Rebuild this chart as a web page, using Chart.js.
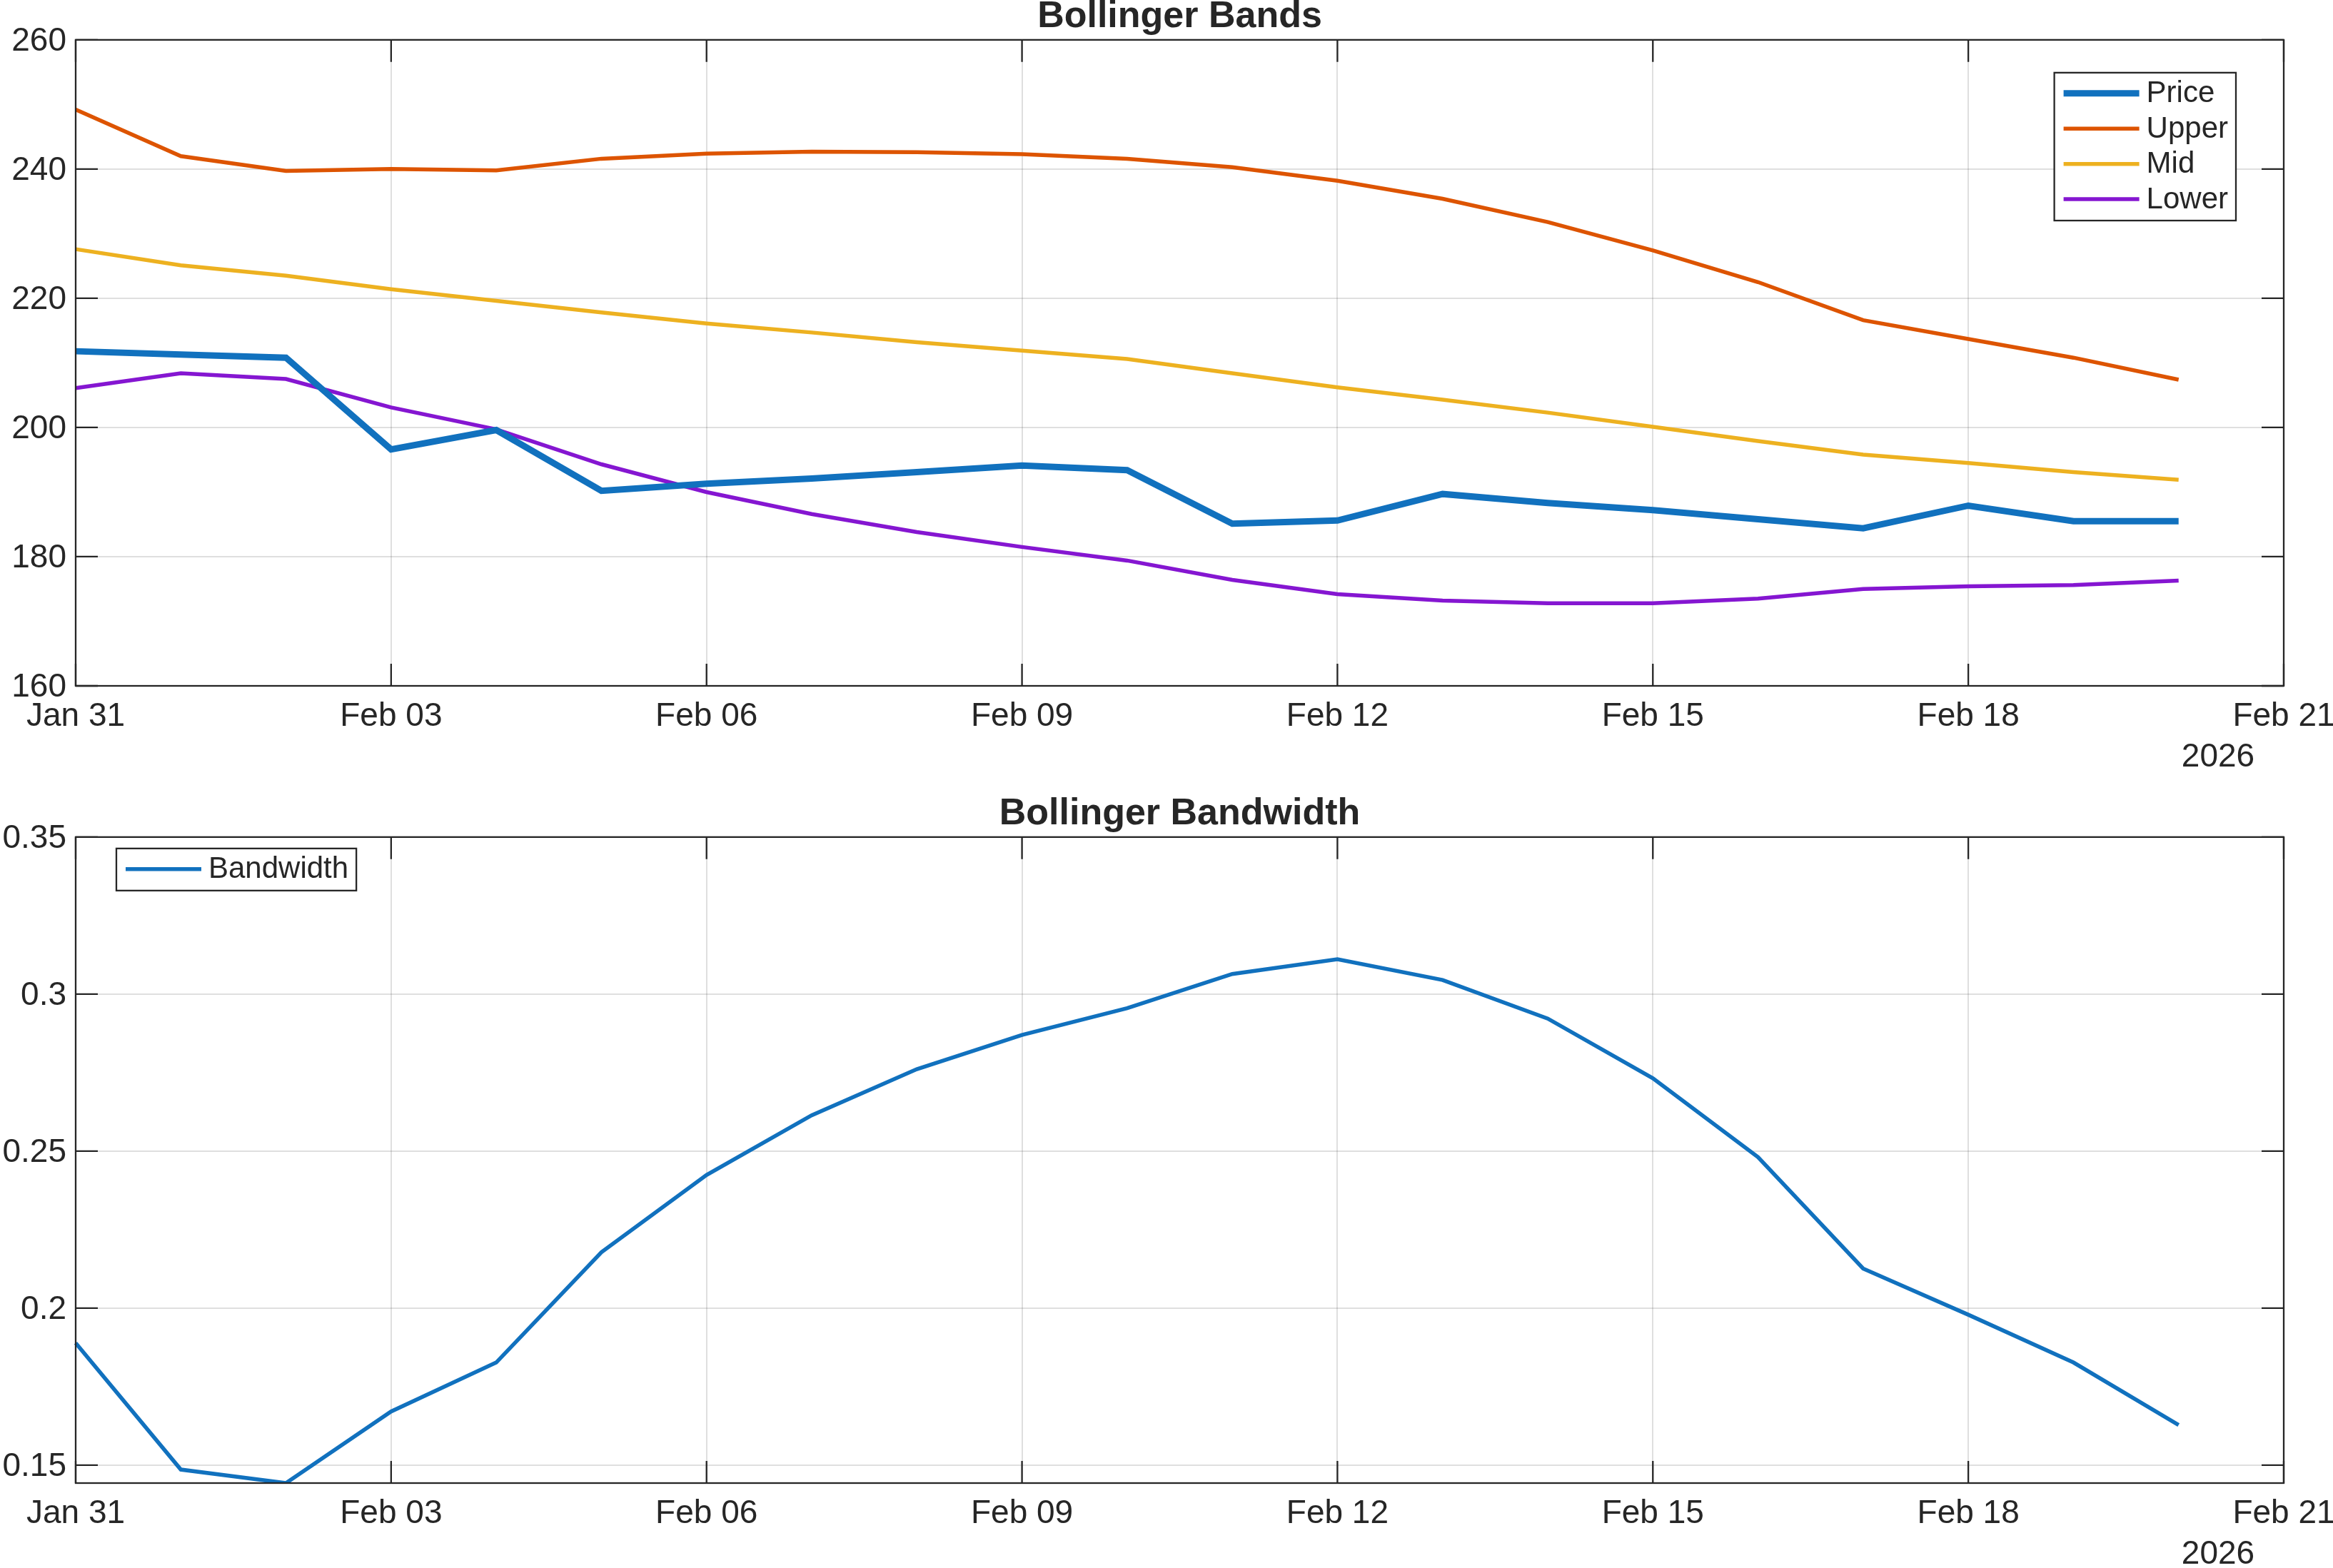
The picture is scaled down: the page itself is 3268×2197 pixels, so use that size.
<!DOCTYPE html>
<html>
<head>
<meta charset="utf-8">
<title>Bollinger Bands</title>
<script src="https://cdn.jsdelivr.net/npm/chart.js@4.4.1/dist/chart.umd.min.js"></script>
<style>
  html, body { margin: 0; padding: 0; background: #fff; }
  body { width: 3268px; height: 2197px; position: relative; overflow: hidden; }
  canvas { position: absolute; left: 0; }
  #bandsChart { top: 0; }
  #bwChart { top: 1100px; }
</style>
</head>
<body>
<canvas id="bandsChart" width="3268" height="1100"></canvas>
<canvas id="bwChart" width="3268" height="1097"></canvas>
<script>
// x axis days (Feb 21 only closes the axis, no value there)
var dates = ['Jan 31', 'Feb 01', 'Feb 02', 'Feb 03', 'Feb 04', 'Feb 05', 'Feb 06', 'Feb 07',
             'Feb 08', 'Feb 09', 'Feb 10', 'Feb 11', 'Feb 12', 'Feb 13', 'Feb 14', 'Feb 15',
             'Feb 16', 'Feb 17', 'Feb 18', 'Feb 19', 'Feb 20', 'Feb 21'];
var yearLabel = '2026';

// series
var price = [211.8, 211.3, 210.8, 196.6, 199.6, 190.2, 191.3, 192.1, 193.1, 194.1, 193.4,
             185.1, 185.6, 189.7, 188.3, 187.2, 185.8, 184.4, 187.9, 185.5, 185.5];
var upper = [249.2, 242.0, 239.7, 240.0, 239.8, 241.6, 242.4, 242.7, 242.6, 242.3, 241.6,
             240.3, 238.2, 235.4, 231.8, 227.4, 222.5, 216.6, 213.7, 210.8, 207.4];
var mid = [227.6, 225.1, 223.5, 221.4, 219.6, 217.8, 216.1, 214.7, 213.2, 211.9, 210.6,
           208.4, 206.2, 204.3, 202.3, 200.1, 197.9, 195.8, 194.5, 193.1, 191.9];
var lower = [206.1, 208.4, 207.5, 203.1, 199.7, 194.3, 190.0, 186.6, 183.8, 181.5, 179.4,
             176.4, 174.2, 173.2, 172.8, 172.8, 173.5, 175.0, 175.4, 175.6, 176.3];
var bandwidth = [0.1889, 0.1486, 0.1443, 0.1671, 0.1827, 0.2178, 0.2424, 0.2614, 0.2761, 0.2870, 0.2955,
                 0.3064, 0.3111, 0.3045, 0.2922, 0.2732, 0.2481, 0.2126, 0.1979, 0.1827, 0.1628];

// tick labels
var bandTicks = [160, 180, 200, 220, 240, 260];
var bwTicks = [0.15, 0.2, 0.25, 0.3, 0.35];
var dateStep = 3;

var FONT = '"Liberation Sans", Arial, Helvetica, sans-serif';
var INK = '#262626';
var GRID = 'rgba(38,38,38,0.15)';

Chart.defaults.font.family = FONT;
Chart.defaults.color = INK;

// matlab style box with inward ticks on all four sides, y labels,
// plus the year under the last date
var axesBox = {
  id: 'axesBox',
  afterDatasetsDraw: function(chart) {
    var a = chart.chartArea, ctx = chart.ctx;
    var xs = chart.scales.x, ys = chart.scales.y;
    var tl = 31;
    ctx.save();
    ctx.strokeStyle = INK;
    ctx.lineWidth = 2.3;
    ctx.beginPath();
    xs.ticks.forEach(function(t, i) {
      var px = xs.getPixelForTick(i);
      ctx.moveTo(px, a.bottom); ctx.lineTo(px, a.bottom - tl);
      ctx.moveTo(px, a.top); ctx.lineTo(px, a.top + tl);
    });
    ys.ticks.forEach(function(t, i) {
      var py = ys.getPixelForTick(i);
      ctx.moveTo(a.left, py); ctx.lineTo(a.left + tl, py);
      ctx.moveTo(a.right, py); ctx.lineTo(a.right - tl, py);
    });
    ctx.stroke();
    ctx.strokeRect(a.left, a.top, a.width, a.height);

    ctx.fillStyle = INK;
    ctx.font = '46px ' + FONT;
    ctx.textAlign = 'right';
    ctx.textBaseline = 'middle';
    ys.ticks.forEach(function(t, i) {
      ctx.fillText(String(t.value), a.left - 13, ys.getPixelForTick(i) + 2);
    });

    ctx.textAlign = 'center';
    ctx.fillText(yearLabel, a.right - 92, a.bottom + 100);
    ctx.restore();
  }
};

// legend drawn inside the axes with a frame
var boxLegend = {
  id: 'boxLegend',
  afterDraw: function(chart, args, opts) {
    var a = chart.chartArea, ctx = chart.ctx;
    var sets = chart.data.datasets;
    ctx.save();
    ctx.font = '42px ' + FONT;
    var tw = 0;
    sets.forEach(function(d) { tw = Math.max(tw, ctx.measureText(d.label).width); });
    var w = 13 + 106 + 10 + tw + 11;
    var rowH = 49.4;
    var h = 29 + (sets.length - 1) * rowH + 30;
    var x = opts.right !== undefined ? a.right - opts.right - w : a.left + opts.left;
    var y = a.top + opts.top;
    ctx.fillStyle = '#fff';
    ctx.fillRect(x, y, w, h);
    ctx.strokeStyle = INK;
    ctx.lineWidth = 2.3;
    ctx.strokeRect(x, y, w, h);
    sets.forEach(function(d, i) {
      var cy = y + 29 + i * rowH;
      ctx.strokeStyle = d.borderColor;
      ctx.lineWidth = d.borderWidth;
      ctx.beginPath();
      ctx.moveTo(x + 13, cy);
      ctx.lineTo(x + 119, cy);
      ctx.stroke();
      ctx.fillStyle = INK;
      ctx.textAlign = 'left';
      ctx.textBaseline = 'middle';
      ctx.fillText(d.label, x + 129, cy + 1);
    });
    ctx.restore();
  }
};

function line(label, values, color, width) {
  return {
    label: label,
    data: values,
    borderColor: color,
    backgroundColor: color,
    borderWidth: width,
    pointRadius: 0,
    tension: 0,
    fill: false
  };
}

// the y axis gets no width of its own (labels are drawn by axesBox into the
// left padding), so the title centres over the axes like in matlab
function makeOptions(title, titleTop, yMin, yMax, yTicks, xHeight, legendPos) {
  return {
    responsive: false,
    animation: false,
    layout: { padding: { left: 106, right: 69, top: 0, bottom: 0 } },
    plugins: {
      legend: { display: false },
      tooltip: { enabled: false },
      title: {
        display: true,
        text: title,
        color: INK,
        font: { size: 52, weight: 'bold', lineHeight: 0.92 },
        padding: { top: titleTop, bottom: 8 }
      },
      boxLegend: legendPos
    },
    scales: {
      x: {
        type: 'category',
        offset: false,
        grid: { color: GRID, lineWidth: 2, drawTicks: false },
        border: { display: false },
        ticks: { autoSkip: false, maxRotation: 0, font: { size: 46 }, color: INK, padding: 16 },
        afterBuildTicks: function(s) {
          s.ticks = s.ticks.filter(function(t, i) { return i % dateStep === 0; });
        },
        afterFit: function(s) {
          s.height = xHeight;
          s.paddingLeft = 0;
          s.paddingRight = 0;
        }
      },
      y: {
        min: yMin,
        max: yMax,
        grid: { color: GRID, lineWidth: 2, drawTicks: false },
        border: { display: false },
        ticks: { display: false },
        afterBuildTicks: function(s) {
          s.ticks = yTicks.map(function(v) { return { value: v }; });
        },
        afterFit: function(s) {
          s.width = 0;
          s.paddingTop = 0;
          s.paddingBottom = 0;
        }
      }
    }
  };
}

new Chart(document.getElementById('bandsChart').getContext('2d'), {
  type: 'line',
  data: {
    labels: dates,
    datasets: [
      line('Price', price, '#1171BE', 9),
      line('Upper', upper, '#DD5400', 5.5),
      line('Mid', mid, '#EDB120', 5.5),
      line('Lower', lower, '#8516D1', 5.5)
    ]
  },
  options: makeOptions('Bollinger Bands', 0, 160, 260, bandTicks, 139, { right: 67, top: 46 }),
  plugins: [axesBox, boxLegend]
});

new Chart(document.getElementById('bwChart').getContext('2d'), {
  type: 'line',
  data: {
    labels: dates,
    datasets: [
      line('Bandwidth', bandwidth, '#1171BE', 5.5)
    ]
  },
  options: makeOptions('Bollinger Bandwidth', 17, Math.min.apply(null, bandwidth), 0.35, bwTicks, 119, { left: 57, top: 16 }),
  plugins: [axesBox, boxLegend]
});
</script>
</body>
</html>
